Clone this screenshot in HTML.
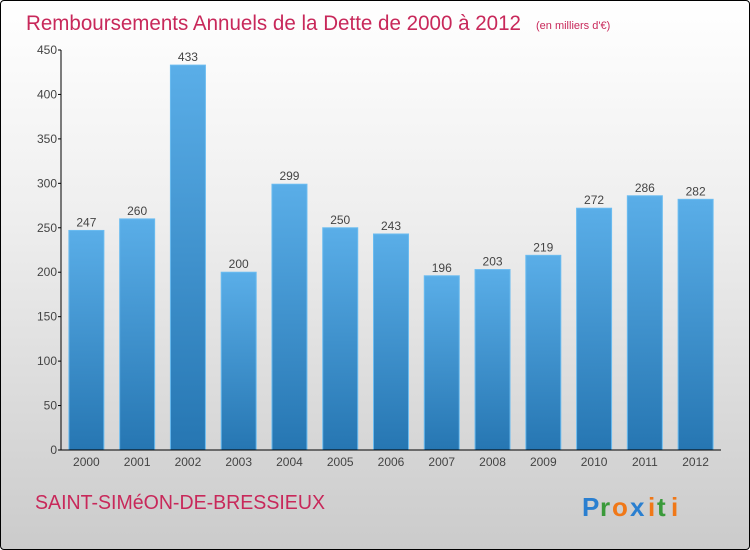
<!DOCTYPE html>
<html><head><meta charset="utf-8"><style>
body{margin:0;width:750px;height:550px;overflow:hidden;font-family:"Liberation Sans",sans-serif}
#frame{position:absolute;left:0;top:0;width:748px;height:548px;border:1px solid #000;border-radius:4px;background:linear-gradient(#ffffff,#eeeeee 40%,#cbcbcb)}
</style></head><body>
<div id="frame"></div>
<svg id="c" width="750" height="550" style="position:absolute;left:0;top:0">
<defs><linearGradient id="bg" x1="0" y1="0" x2="0" y2="1"><stop offset="0" stop-color="#5aaee8"/><stop offset="1" stop-color="#2676b2"/></linearGradient></defs>
<text x="26" y="30" font-size="21" fill="#c8285a" textLength="495" lengthAdjust="spacingAndGlyphs">Remboursements Annuels de la Dette de 2000 à 2012</text>
<text x="536" y="29" font-size="11" fill="#c8285a">(en milliers d'€)</text>
<text x="35" y="509" font-size="20" fill="#c8285a" textLength="290" lengthAdjust="spacingAndGlyphs">SAINT-SIMéON-DE-BRESSIEUX</text>
<g font-size="26" font-weight="bold" font-family="Liberation Sans, sans-serif">
<text x="582" y="516" fill="#2a7fd0">P</text><text x="600" y="516" fill="#3a9a3a">r</text><text x="612" y="516" fill="#f07818">o</text><text x="630" y="516" fill="#2a7fd0">x</text><text x="648" y="516" fill="#f07818">i</text><text x="657" y="516" fill="#3a9a3a">t</text><text x="671" y="516" fill="#f07818">i</text>
</g>
<g id="plot"></g>
</svg>
<script>
const categories=["2000","2001","2002","2003","2004","2005","2006","2007","2008","2009","2010","2011","2012"];
const values=[247,260,433,200,299,250,243,196,203,219,272,286,282];
const yTicks=[0,50,100,150,200,250,300,350,400,450];
const NS="http://www.w3.org/2000/svg";
const g=document.getElementById('plot');
const x0=61,x1=721,y0=450,yMax=450,plotH=400;
const band=(x1-x0)/categories.length,bw=35;
const y=v=>y0-v/yMax*plotH;
const xc=i=>x0+band*(i+0.5);
function mk(t,a){const e=document.createElementNS(NS,t);for(const k in a)e.setAttribute(k,a[k]);g.appendChild(e);return e;}
values.forEach((v,i)=>{
 const r=mk('rect',{x:xc(i)-bw/2,y:y(v),width:bw,height:y0-y(v),fill:'url(#bg)',stroke:'#6bbcf0','stroke-width':1});
 
 
 const t=mk('text',{x:xc(i),y:y(v)-4,'font-size':12,fill:'#444','text-anchor':'middle'});
 t.textContent=v;
 
 
 const xl=mk('text',{x:xc(i),y:466,'font-size':12,fill:'#444','text-anchor':'middle'});
 xl.textContent=categories[i];
 
 
});
yTicks.forEach(v=>{
 const l=mk('line',{x1:x0-3,x2:x0,y1:y(v),y2:y(v),stroke:'#000'});
 
 
 const t=mk('text',{x:x0-4,y:y(v)+4,'font-size':12,fill:'#444','text-anchor':'end'});
 t.textContent=v;
 
 
});
const ya=mk('line',{x1:x0,x2:x0,y1:y0-plotH,y2:y0,stroke:'#000'});


const xa=mk('line',{x1:x0-3,x2:x1,y1:y0,y2:y0,stroke:'#000'});


</script>
</body></html>
